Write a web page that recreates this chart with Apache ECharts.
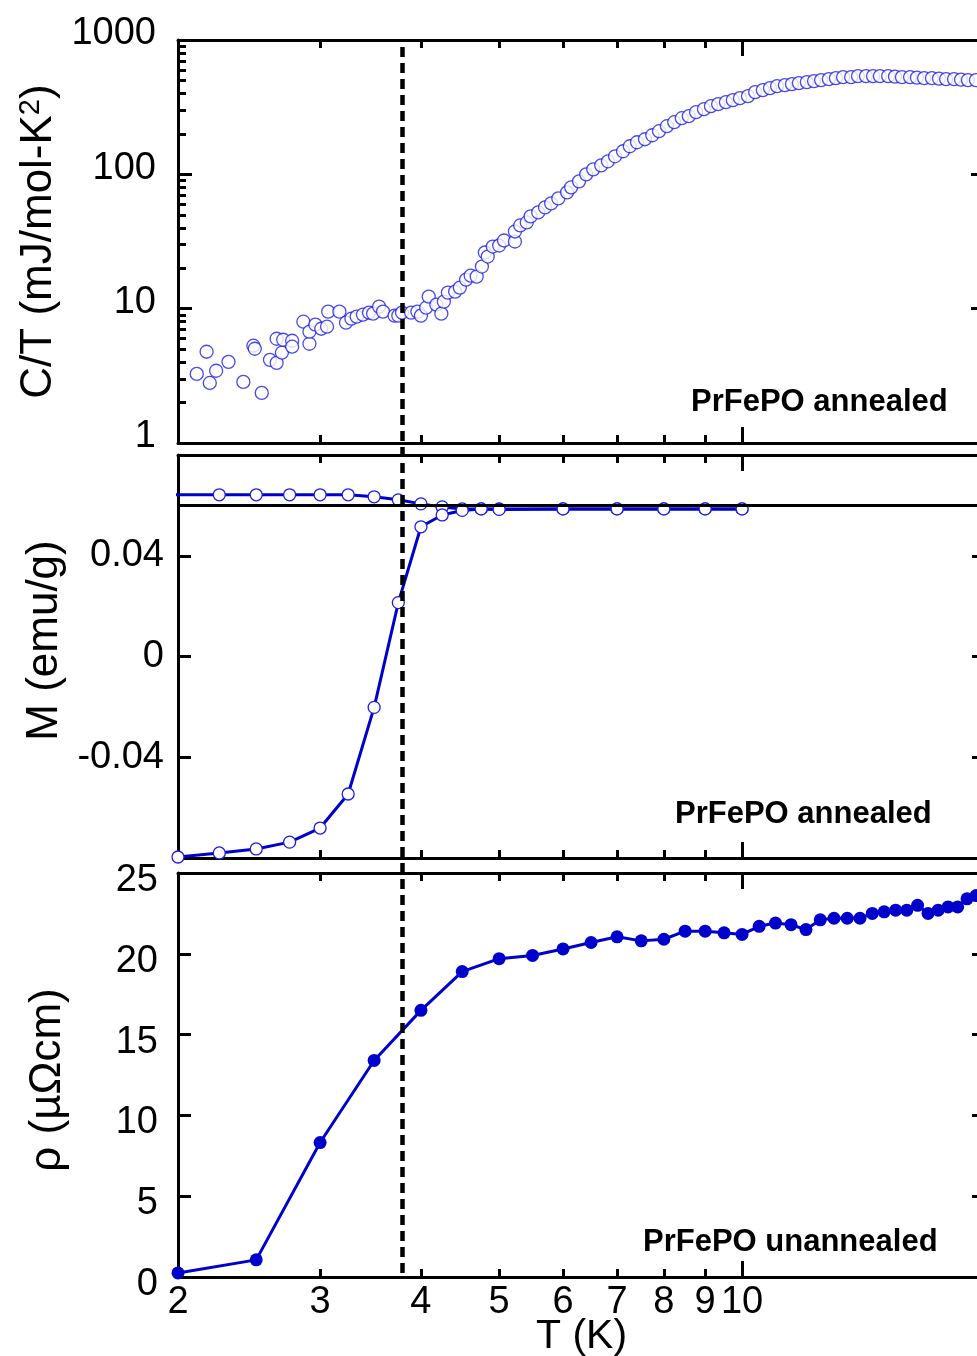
<!DOCTYPE html>
<html>
<head>
<meta charset="utf-8">
<script src="https://cdn.jsdelivr.net/npm/echarts@6/dist/echarts.min.js"></script>
<style>
html, body { margin: 0; padding: 0; background: #fff; }
#chart { width: 977px; height: 1356px; }
</style>
</head>
<body>
<div id="chart"></div>
<script>
// ---- data ----
// top panel: C/T (mJ/mol-K^2) vs T (K)
const ctT = [2.11, 2.17, 2.19, 2.23, 2.31, 2.41, 2.48, 2.49, 2.54, 2.60, 2.65, 2.65, 2.69, 2.70, 2.77, 2.77,
    2.86, 2.91, 2.91, 2.96, 3.01, 3.06, 3.07, 3.17, 3.23, 3.28, 3.33, 3.39, 3.45, 3.49, 3.55, 3.59, 3.71, 3.75,
    3.79, 3.89, 3.96, 4.00, 4.06, 4.09, 4.18, 4.24, 4.27, 4.32, 4.41, 4.47, 4.55, 4.61, 4.69, 4.76, 4.80, 4.84,
    4.91, 5.00, 5.07, 5.23, 5.23, 5.31, 5.41, 5.47, 5.59, 5.70, 5.80, 5.92, 6.07, 6.14, 6.28, 6.41, 6.54, 6.69,
    6.82, 6.96, 7.12, 7.26, 7.41, 7.58, 7.74, 7.89, 8.07, 8.24, 8.42, 8.59, 8.77, 8.97, 9.15, 9.34, 9.55, 9.74,
    9.94, 10.17, 10.38, 10.61, 10.83, 11.05, 11.30, 11.53, 11.76, 12.03, 12.28, 12.53, 12.81, 13.07, 13.34,
    13.65, 13.92, 14.24, 14.53, 14.82, 15.17, 15.47, 15.78, 16.15, 16.47, 16.81, 17.19, 17.54, 17.90, 18.31,
    18.68, 19.05, 19.49]
const ctVal = [3.27, 4.78, 2.80, 3.45, 4.02, 2.85, 5.30, 5.03, 2.36, 4.16, 5.97, 3.95, 4.70, 5.87, 5.77, 5.21,
    8.00, 5.48, 6.74, 7.60, 7.09, 7.34, 9.50, 9.50, 7.86, 8.42, 8.72, 9.02, 9.34, 9.18, 10.35, 9.50, 8.87, 8.87,
    9.34, 9.34, 9.50, 8.87, 10.17, 12.29, 10.71, 9.18, 11.28, 13.17, 13.39, 14.35, 16.46, 17.63, 17.33, 20.58,
    26.18, 24.44, 29.01, 29.52, 32.18, 31.62, 37.55, 41.63, 43.84, 48.60, 52.06, 56.73, 60.75, 66.21, 73.40,
    79.98, 88.67, 100.0, 108.9, 116.7, 125.0, 136.2, 148.5, 161.8, 173.3, 182.5, 195.4, 209.4, 228.2, 244.3,
    261.8, 270.9, 290.2, 305.5, 321.8, 333.1, 344.6, 356.7, 369.2, 382.1, 409.2, 423.6, 438.3, 453.7, 461.6,
    469.6, 477.8, 486.1, 494.5, 503.0, 511.7, 520.5, 529.6, 529.6, 538.7, 538.7, 538.7, 538.7, 538.7, 534.0,
    529.6, 529.6, 525.0, 520.5, 520.5, 516.0, 511.7, 511.7, 507.0, 503.0, 503.0]

// middle panel: M (emu/g), two branches
const mUpperT = [1.9, 2.25, 2.5, 2.75, 3, 3.25, 3.5, 3.75, 4, 4.25, 4.5, 4.75, 5, 6, 7, 8, 9, 10]
const mUpper = [0.0642, 0.0642, 0.0642, 0.0642, 0.0642, 0.0642, 0.0634, 0.0622, 0.0606, 0.0594, 0.0586,
    0.0586, 0.0586, 0.0586, 0.0586, 0.0586, 0.0586, 0.0586]
const mLowerT = [2, 2.25, 2.5, 2.75, 3, 3.25, 3.5, 3.75, 4, 4.25, 4.5, 4.75, 5, 6, 7, 8, 9, 10]
const mLower = [-0.0796, -0.0780, -0.0764, -0.0737, -0.0681, -0.0546, -0.0202, 0.0214, 0.0515, 0.0562,
    0.0580, 0.0586, 0.0584, 0.0586, 0.0586, 0.0586, 0.0586, 0.0586]
const mRef = 0.0586

// bottom panel: rho (µΩcm)
const rhoT = [2, 2.5, 3, 3.5, 4, 4.5, 5, 5.5, 6, 6.5, 7, 7.5, 8, 8.5, 9, 9.5, 10, 10.5, 11, 11.5, 12, 12.5,
    13, 13.5, 14, 14.5, 15, 15.5, 16, 16.5, 17, 17.5, 18, 18.5, 19, 19.5]
const rhoVal = [0.25, 1.06, 8.32, 13.4, 16.5, 18.9, 19.7, 19.9, 20.3, 20.7, 21.05, 20.8, 20.9, 21.4, 21.4,
    21.3, 21.2, 21.7, 21.9, 21.8, 21.5, 22.1, 22.2, 22.2, 22.2, 22.5, 22.6, 22.7, 22.7, 23.0, 22.5, 22.7,
    22.9, 22.9, 23.4, 23.6]

const tc = 3.79

// ticks and labels
const xLabelVals = [2, 3, 4, 5, 6, 7, 8, 9, 10]
const xMinorTicks = [3, 4, 5, 6, 7, 8, 9]
const xMajorTicks = [10]
const ctLabelVals = [1, 10, 100, 1000]
const ctMajorTicks = [10, 100]
const ctMinorTicks = [2, 3, 4, 5, 6, 7, 8, 9, 20, 30, 40, 50, 60, 70, 80, 90, 200, 300, 400, 500, 600, 700, 800, 900]
const mLabelVals = [-0.04, 0, 0.04]
const rhoLabelVals = [0, 5, 10, 15, 20, 25]
const rhoTicks = [5, 10, 15, 20]

const FONT = "'Liberation Sans', Arial, sans-serif"
const BLUE = '#0000cc'
const black = { color: '#000', width: 3 }
const pair = (xs, ys) => xs.map((x, i) => [x, ys[i]])

const grids = [
    { left: 178, top: 40, width: 807, height: 403, outerBoundsMode: 'none' },
    { left: 178, top: 455, width: 807, height: 403, outerBoundsMode: 'none' },
    { left: 178, top: 873, width: 807, height: 404, outerBoundsMode: 'none' },
    { left: 178, top: 40, width: 807, height: 1233, outerBoundsMode: 'none' }   // for the dashed Tc line
]

function tAxis(grid, position, ticks, len, line, labels) {
    return {
        gridIndex: grid, type: 'log', logBase: 10, min: 2, max: 20, position: position,
        axisLine: { show: line, onZero: false, lineStyle: black },
        axisTick: { inside: true, length: len, customValues: ticks, lineStyle: black },
        axisLabel: labels ? {
            customValues: xLabelVals, fontSize: 38, color: '#000', fontFamily: FONT, margin: 7,
            formatter: v => String(Math.round(v))
        } : { show: false },
        splitLine: { show: false },
        name: labels ? 'T (K)' : '',
        nameLocation: 'middle', nameGap: 39, nameMoveOverlap: false,
        nameTextStyle: { fontSize: 41, color: '#000', fontFamily: FONT }
    }
}

const xAxes = []
for (let g = 0; g < 3; g++) {
    xAxes.push(tAxis(g, 'bottom', xMinorTicks, 8, true, g === 2))
    xAxes.push(tAxis(g, 'bottom', xMajorTicks, 16, false, false))
    xAxes.push(tAxis(g, 'top', xMinorTicks, 8, true, false))
    xAxes.push(tAxis(g, 'top', xMajorTicks, 16, false, false))
}
xAxes.push({ gridIndex: 3, type: 'log', min: 2, max: 20, show: false })

const labelStyle = { fontSize: 38, color: '#000', fontFamily: FONT }
const nameStyle = { fontSize: 44, color: '#000', fontFamily: FONT }

const yAxes = [
    // 0: C/T left
    {
        gridIndex: 0, type: 'log', logBase: 10, min: 1, max: 1000, position: 'left',
        axisLine: { lineStyle: black },
        axisTick: { inside: true, length: 14, customValues: ctMajorTicks, lineStyle: black },
        axisLabel: Object.assign({ customValues: ctLabelVals, margin: 22, verticalAlign: 'bottom', lineHeight: 12,
            formatter: v => String(Math.round(v)) }, labelStyle),
        splitLine: { show: false },
        name: '{a|C/T (mJ/mol-K}{s|2}{a|)}', nameLocation: 'middle', nameGap: 108,
        nameTextStyle: Object.assign({
            rich: {
                a: { fontSize: 44, color: '#000', fontFamily: FONT },
                s: { fontSize: 29, color: '#000', fontFamily: FONT, verticalAlign: 'top' }
            }
        }, nameStyle)
    },
    // 1: C/T minor ticks
    {
        gridIndex: 0, type: 'log', logBase: 10, min: 1, max: 1000, position: 'left',
        axisLine: { show: false },
        axisTick: { inside: true, length: 8, customValues: ctMinorTicks, lineStyle: black },
        axisLabel: { show: false }, splitLine: { show: false }
    },
    // 2: C/T right
    {
        gridIndex: 0, type: 'log', logBase: 10, min: 1, max: 1000, position: 'right',
        axisLine: { lineStyle: black },
        axisTick: { inside: true, length: 14, customValues: ctMajorTicks, lineStyle: black },
        axisLabel: { show: false }, splitLine: { show: false }
    },
    // 3: M left
    {
        gridIndex: 1, type: 'value', min: -0.08, max: 0.08, interval: 0.04, position: 'left',
        axisLine: { onZero: false, lineStyle: black },
        axisTick: { inside: true, length: 13, customValues: mLabelVals, lineStyle: black },
        axisLabel: Object.assign({ customValues: mLabelVals, margin: 14,
            formatter: v => (Math.abs(v) < 1e-9 ? '0' : v.toFixed(2)) }, labelStyle),
        splitLine: { show: false },
        name: 'M (emu/g)', nameLocation: 'middle', nameGap: 108,
        nameTextStyle: Object.assign({ padding: [0, 0, 0, 32] }, nameStyle)
    },
    // 4: M right
    {
        gridIndex: 1, type: 'value', min: -0.08, max: 0.08, interval: 0.04, position: 'right',
        axisLine: { onZero: false, lineStyle: black },
        axisTick: { inside: true, length: 13, customValues: mLabelVals, lineStyle: black },
        axisLabel: { show: false }, splitLine: { show: false }
    },
    // 5: rho left
    {
        gridIndex: 2, type: 'value', min: 0, max: 25, interval: 5, position: 'left',
        axisLine: { onZero: false, lineStyle: black },
        axisTick: { inside: true, length: 13, customValues: rhoTicks, lineStyle: black },
        axisLabel: Object.assign({ customValues: rhoLabelVals, margin: 20, verticalAlign: 'top', lineHeight: 15 }, labelStyle),
        splitLine: { show: false },
        name: 'ρ (µΩcm)', nameLocation: 'middle', nameGap: 108,
        nameTextStyle: Object.assign({ padding: [0, 10, 0, 0] }, nameStyle)
    },
    // 6: rho right
    {
        gridIndex: 2, type: 'value', min: 0, max: 25, interval: 5, position: 'right',
        axisLine: { onZero: false, lineStyle: black },
        axisTick: { inside: true, length: 13, customValues: rhoTicks, lineStyle: black },
        axisLabel: { show: false }, splitLine: { show: false }
    },
    // 7: hidden, for the dashed line
    { gridIndex: 3, type: 'value', min: 0, max: 1, show: false }
]

const openCircle = { color: '#fff', borderColor: '#1c1ce6', borderWidth: 1.3 }
const noteStyle = { fontSize: 31, fontWeight: 'bold', color: '#000', fontFamily: FONT }

const option = {
    animation: false,
    backgroundColor: '#fff',
    grid: grids,
    xAxis: xAxes,
    yAxis: yAxes,
    title: [
        { text: 'PrFePO annealed', left: 691, top: 387, padding: 0, textStyle: noteStyle },
        { text: 'PrFePO annealed', left: 675, top: 799, padding: 0, textStyle: noteStyle },
        { text: 'PrFePO unannealed', left: 643, top: 1227, padding: 0, textStyle: noteStyle }
    ],
    series: [
        {
            name: 'C/T', type: 'scatter', xAxisIndex: 0, yAxisIndex: 0,
            symbol: 'circle', symbolSize: 13, itemStyle: openCircle,
            data: pair(ctT, ctVal)
        },
        {
            name: 'M upper', type: 'line', xAxisIndex: 4, yAxisIndex: 3,
            symbol: 'circle', symbolSize: 12, showSymbol: true,
            lineStyle: { color: BLUE, width: 3 }, itemStyle: openCircle,
            data: pair(mUpperT, mUpper),
            markLine: {
                silent: true, symbol: 'none', label: { show: false },
                lineStyle: { color: '#000', width: 3, type: 'solid' },
                data: [{ yAxis: mRef }]
            }
        },
        {
            name: 'M lower', type: 'line', xAxisIndex: 4, yAxisIndex: 3,
            symbol: 'circle', symbolSize: 12, showSymbol: true,
            lineStyle: { color: BLUE, width: 3 }, itemStyle: openCircle,
            data: pair(mLowerT, mLower)
        },
        {
            name: 'rho', type: 'line', xAxisIndex: 8, yAxisIndex: 5,
            symbol: 'circle', symbolSize: 13, showSymbol: true,
            lineStyle: { color: BLUE, width: 3 }, itemStyle: { color: BLUE },
            data: pair(rhoT, rhoVal)
        },
        {
            name: 'Tc', type: 'line', xAxisIndex: 12, yAxisIndex: 7, data: [], z: 10,
            markLine: {
                silent: true, symbol: 'none', label: { show: false },
                lineStyle: { color: '#000', width: 4.5, type: [10, 6] },
                data: [{ xAxis: tc }]
            }
        }
    ]
}

const chart = echarts.init(document.getElementById('chart'))
chart.setOption(option)
</script>
</body>
</html>
